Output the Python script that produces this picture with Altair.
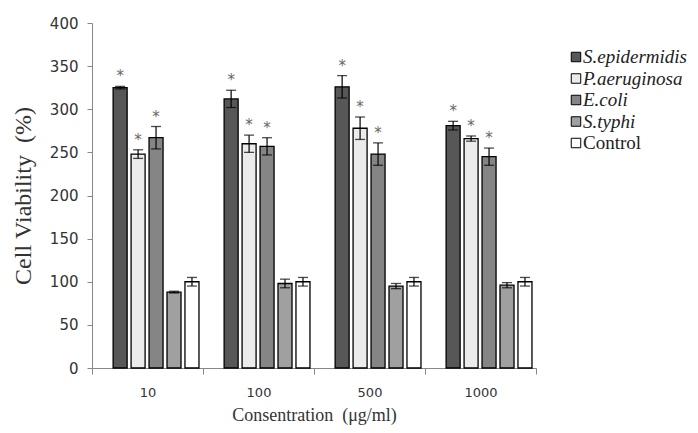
import altair as alt
import pandas as pd

conc = ["10", "100", "500", "1000"]
series = ["S.epidermidis", "P.aeruginosa", "E.coli", "S.typhi", "Control"]
viab_sepi = [325, 312, 326, 281]
viab_paer = [248, 260, 278, 266]
viab_ecoli = [267, 257, 248, 245]
viab_styphi = [88, 98, 95, 96]
viab_control = [100, 100, 100, 100]
err_sepi = [1.5, 10, 13, 5]
err_paer = [5, 10, 13, 3]
err_ecoli = [13, 10, 13, 10]
err_styphi = [1, 5, 3, 3]
err_control = [5, 5, 5, 5]
significant = ["S.epidermidis", "P.aeruginosa", "E.coli"]
fills = ["#575757", "#ebebeb", "#858585", "#a0a0a0", "#ffffff"]

vals = [viab_sepi, viab_paer, viab_ecoli, viab_styphi, viab_control]
errs = [err_sepi, err_paer, err_ecoli, err_styphi, err_control]
rows = []
for s, vs, es in zip(series, vals, errs):
    for c, v, e in zip(conc, vs, es):
        rows.append(dict(conc=c, series=s, value=v, lo=v - e, hi=v + e,
                         star="*" if s in significant else ""))
df = pd.DataFrame(rows)
legend_df = pd.DataFrame({"series": series})

x = alt.X("conc:N", sort=conc, scale=alt.Scale(paddingInner=0, paddingOuter=0),
          axis=alt.Axis(title="Consentration\u00a0\u00a0(μg/ml)", labelAngle=0, tickBand="extent",
                        tickSize=6, labelPadding=12, titlePadding=7,
                        labelFontSize=13, titleFontSize=18))
xo = alt.XOffset("series:N", sort=series,
                 scale=alt.Scale(paddingInner=0.22, paddingOuter=0.7, align=0.84))
yscale = alt.Scale(domain=[0, 400])
fill = alt.Fill("series:N", sort=series, scale=alt.Scale(domain=series, range=fills), legend=None)

base = alt.Chart(df)
bars = base.mark_bar(stroke="black", strokeWidth=1.3).encode(
    x=x, xOffset=xo,
    y=alt.Y("value:Q", scale=yscale,
            axis=alt.Axis(title="Cell\u00a0Viability\u00a0\u00a0(%)", values=list(range(0, 401, 50)),
                          tickSize=5, labelPadding=9, titlePadding=14,
                          labelFontSize=15, titleFontSize=24)),
    fill=fill)
rules = base.mark_rule(color="black", strokeWidth=1.2).encode(
    x=x, xOffset=xo, y=alt.Y("lo:Q", scale=yscale), y2="hi:Q")
cap_hi = base.mark_tick(color="black", thickness=1.3, size=10).encode(
    x=x, xOffset=xo, y=alt.Y("hi:Q", scale=yscale))
cap_lo = base.mark_tick(color="black", thickness=1.3, size=10).encode(
    x=x, xOffset=xo, y=alt.Y("lo:Q", scale=yscale))
stars = base.transform_filter("datum.star != ''").mark_text(
    fontSize=15, color="#666666", baseline="middle", dy=-10, font="DejaVu Sans").encode(
    x=x, xOffset=xo, y=alt.Y("hi:Q", scale=yscale), text="star:N")
main = alt.layer(bars, rules, cap_hi, cap_lo, stars)

ly = alt.Y("series:N", sort=series, scale=alt.Scale(domain=series, range=[34, 120], padding=0), axis=None)
lbase = alt.Chart(legend_df)
lsq = lbase.mark_square(size=90, stroke="black", strokeWidth=1, opacity=1).encode(
    x=alt.value(484), y=ly, fill=fill)
ltxt_i = lbase.transform_filter("datum.series != 'Control'").mark_text(
    align="left", baseline="middle", font="Liberation Serif", fontStyle="italic",
    fontSize=19, color="#222").encode(x=alt.value(491), y=ly, text="series:N")
ltxt_n = lbase.transform_filter("datum.series == 'Control'").mark_text(
    align="left", baseline="middle", font="Liberation Serif",
    fontSize=19, color="#222").encode(x=alt.value(491), y=ly, text="series:N")
legend = alt.layer(lsq, ltxt_i, ltxt_n)

chart = alt.layer(main, legend).resolve_scale(y="independent").properties(
    width=444, height=345,
    autosize=alt.AutoSizeParams(type="none"),
    padding={"left": 84, "top": 15, "right": 154, "bottom": 57},
).configure_view(stroke=None).configure_axis(
    domainColor="#888", tickColor="#888", labelColor="#333", labelFont="DejaVu Sans",
    titleFont="Liberation Serif", titleFontWeight="normal", titleColor="#333", grid=False)

chart.save("out.html", embed_options={"renderer": "svg", "actions": False})
